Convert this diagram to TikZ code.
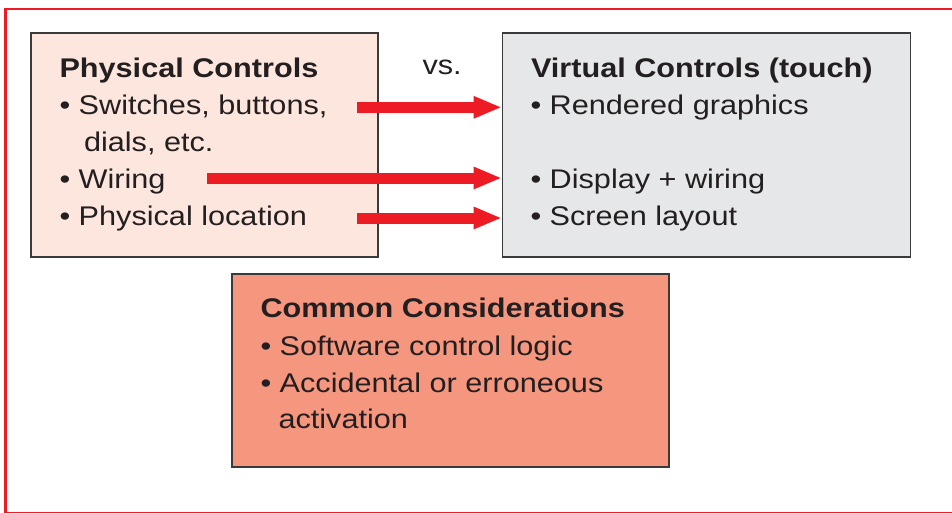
\documentclass[tikz,border=0pt]{standalone}
\usepackage{fontspec}
\setmainfont[FakeStretch=1.135]{Liberation Sans}
\usetikzlibrary{arrows.meta}
\definecolor{redc}{HTML}{ED1C24}
\definecolor{pinkc}{HTML}{FDE6DE}
\definecolor{grayc}{HTML}{E6E7E8}
\definecolor{salmonc}{HTML}{F5967F}
\definecolor{inkc}{HTML}{231F20}
\definecolor{edgec}{HTML}{3A3A3A}
\begin{document}
\begin{tikzpicture}[x=1pt,y=-1pt,
  panel/.style={draw=edgec, line width=1.4pt, inner sep=0pt, outer sep=0pt},
  txt/.style={anchor=base west, inner sep=0pt, outer sep=0pt, text=inkc, font=\fontsize{27}{32}\selectfont},
  ttl/.style={txt, font=\fontsize{27}{32}\selectfont\bfseries},
  bigarrow/.style={draw=redc, line width=11pt, line cap=butt, -{Triangle[length=27pt,width=23pt,line width=0pt]}, shorten >=2pt}]
\useasboundingbox (0,0) rectangle (952,512);
\begin{scope}
  \clip (0,0) rectangle (952,512);
  \draw[redc, line width=2.2pt] (5.5,9) rectangle (970,513.3);
\end{scope}
% panels
\node[panel, fill=pinkc, minimum width=347pt, minimum height=224pt] (phys) at (204.5,145) {};
\node[panel, fill=grayc, minimum width=408pt, minimum height=224pt] (virt) at (706.5,145) {};
\node[panel, fill=salmonc, minimum width=437pt, minimum height=193pt] (common) at (450.5,370.5) {};
% physical controls text
\node[ttl] (pt) at (59.5,77) {Physical Controls};
\node[txt] (p1) at (59.5,114) {• Switches, buttons,};
\node[txt] (p1b) at (84,151) {dials, etc.};
\node[txt] (p2) at (59.5,188) {• Wiring};
\node[txt] (p3) at (59.5,225) {• Physical location};
% vs
\node[txt] (vs) at (422.5,74) {vs.};
% virtual controls text
\node[ttl] (vt) at (531,77) {Virtual Controls (touch)};
\node[txt] (v1) at (530.5,114) {• Rendered graphics};
\node[txt] (v2) at (530.5,188) {• Display + wiring};
\node[txt] (v3) at (530.5,225) {• Screen layout};
% common text
\node[ttl] (ct) at (260.5,317) {Common Considerations};
\node[txt] (c1) at (260.5,355) {• Software control logic};
\node[txt] (c2) at (260.5,392) {• Accidental or erroneous};
\node[txt] (c2b) at (278.5,428) {activation};
% arrows
\coordinate (a1) at (357,107.3);
\coordinate (a2) at (207,178);
\coordinate (a3) at (357,218);
\draw[bigarrow] (a1) -- (a1 -| virt.west);
\draw[bigarrow] (a2) -- (a2 -| virt.west);
\draw[bigarrow] (a3) -- (a3 -| virt.west);
\end{tikzpicture}
\end{document}
